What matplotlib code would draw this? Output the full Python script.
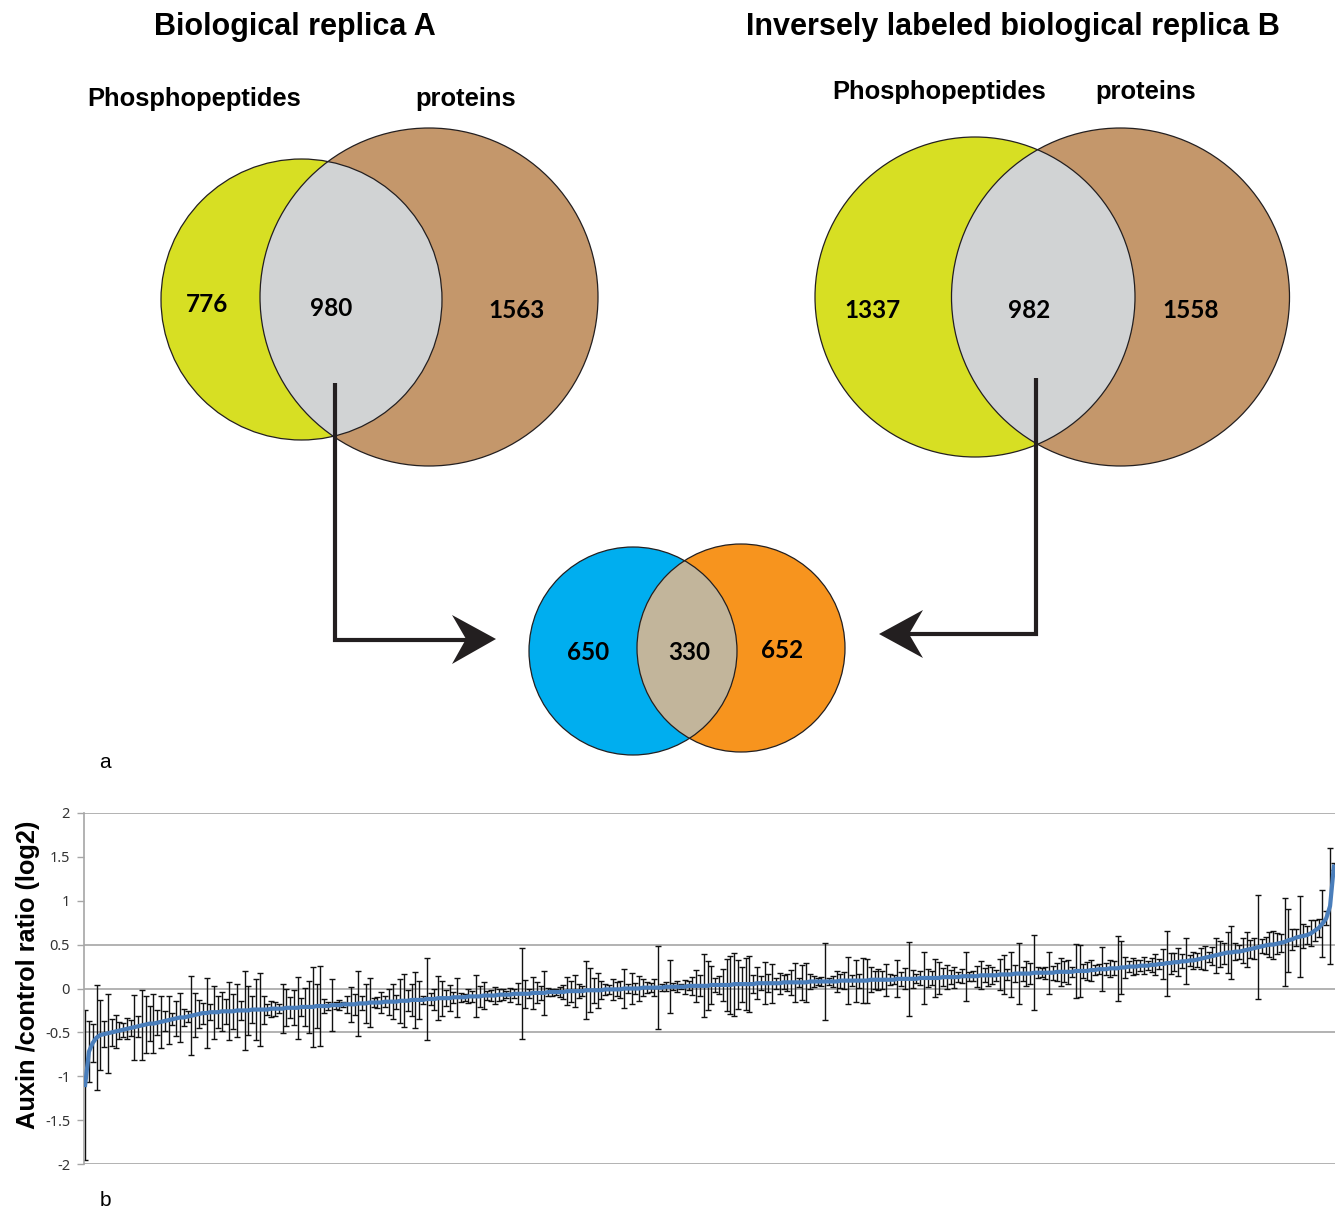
import matplotlib
matplotlib.use('Agg')
import matplotlib.pyplot as plt
import matplotlib.patches as mpatches
import numpy as np

# Venn counts
replica_a = [776, 980, 1563]
replica_b = [1337, 982, 1558]
overlap_ab = [650, 330, 652]
set_labels = ['Phosphopeptides', 'proteins']

# sorted log2 ratios (line) and error bar half-widths
ratio = [
    -1.10, -0.72, -0.62, -0.56, -0.53, -0.52, -0.51, -0.50, -0.49, -0.48,
    -0.47, -0.46, -0.45, -0.44, -0.43, -0.42, -0.41, -0.40, -0.40, -0.39,
    -0.38, -0.37, -0.36, -0.35, -0.34, -0.33, -0.33, -0.32, -0.31, -0.30,
    -0.29, -0.28, -0.28, -0.27, -0.27, -0.27, -0.26, -0.26, -0.26, -0.26,
    -0.25, -0.25, -0.25, -0.25, -0.24, -0.24, -0.24, -0.24, -0.24, -0.23,
    -0.23, -0.23, -0.23, -0.22, -0.22, -0.22, -0.22, -0.21, -0.21, -0.21,
    -0.21, -0.20, -0.20, -0.20, -0.20, -0.19, -0.19, -0.19, -0.18, -0.18,
    -0.18, -0.18, -0.17, -0.17, -0.17, -0.16, -0.16, -0.16, -0.16, -0.15,
    -0.15, -0.15, -0.15, -0.14, -0.14, -0.14, -0.13, -0.13, -0.13, -0.13,
    -0.12, -0.12, -0.12, -0.11, -0.11, -0.11, -0.11, -0.10, -0.10, -0.10,
    -0.10, -0.09, -0.09, -0.09, -0.09, -0.08, -0.08, -0.08, -0.08, -0.07,
    -0.07, -0.07, -0.07, -0.06, -0.06, -0.06, -0.06, -0.06, -0.05, -0.05,
    -0.05, -0.05, -0.04, -0.04, -0.04, -0.04, -0.04, -0.03, -0.03, -0.03,
    -0.03, -0.03, -0.02, -0.02, -0.02, -0.02, -0.02, -0.01, -0.01, -0.01,
    -0.01, -0.01, 0.00, 0.00, 0.00, 0.00, 0.00, 0.01, 0.01, 0.01,
    0.01, 0.01, 0.01, 0.02, 0.02, 0.02, 0.02, 0.02, 0.02, 0.03,
    0.03, 0.03, 0.03, 0.03, 0.03, 0.04, 0.04, 0.04, 0.04, 0.04,
    0.04, 0.05, 0.05, 0.05, 0.05, 0.05, 0.05, 0.06, 0.06, 0.06,
    0.06, 0.06, 0.06, 0.06, 0.07, 0.07, 0.07, 0.07, 0.07, 0.07,
    0.07, 0.08, 0.08, 0.08, 0.08, 0.08, 0.08, 0.08, 0.08, 0.09,
    0.09, 0.09, 0.09, 0.09, 0.09, 0.09, 0.09, 0.10, 0.10, 0.10,
    0.10, 0.10, 0.10, 0.10, 0.11, 0.11, 0.11, 0.11, 0.11, 0.11,
    0.12, 0.12, 0.12, 0.12, 0.12, 0.12, 0.13, 0.13, 0.13, 0.13,
    0.13, 0.14, 0.14, 0.14, 0.14, 0.14, 0.15, 0.15, 0.15, 0.15,
    0.15, 0.16, 0.16, 0.16, 0.16, 0.17, 0.17, 0.17, 0.17, 0.17,
    0.18, 0.18, 0.18, 0.18, 0.18, 0.18, 0.19, 0.19, 0.19, 0.19,
    0.19, 0.20, 0.20, 0.20, 0.20, 0.21, 0.21, 0.22, 0.22, 0.22,
    0.23, 0.23, 0.23, 0.24, 0.24, 0.25, 0.25, 0.25, 0.26, 0.26,
    0.26, 0.27, 0.27, 0.28, 0.28, 0.29, 0.29, 0.30, 0.30, 0.31,
    0.31, 0.32, 0.32, 0.33, 0.34, 0.35, 0.36, 0.37, 0.38, 0.39,
    0.40, 0.41, 0.41, 0.42, 0.42, 0.43, 0.44, 0.45, 0.46, 0.47,
    0.48, 0.49, 0.50, 0.50, 0.51, 0.52, 0.53, 0.55, 0.56, 0.58,
    0.59, 0.60, 0.61, 0.63, 0.66, 0.69, 0.74, 0.80, 0.94, 1.39,
]
err = [
    0.85, 0.35, 0.22, 0.60, 0.40, 0.15, 0.45, 0.15, 0.19, 0.10,
    0.08, 0.12, 0.09, 0.37, 0.12, 0.40, 0.33, 0.20, 0.34, 0.14,
    0.30, 0.11, 0.27, 0.07, 0.20, 0.28, 0.10, 0.06, 0.45, 0.25,
    0.16, 0.12, 0.40, 0.09, 0.30, 0.18, 0.22, 0.14, 0.33, 0.20,
    0.30, 0.11, 0.45, 0.28, 0.15, 0.35, 0.42, 0.16, 0.06, 0.09,
    0.08, 0.05, 0.28, 0.21,
    0.12, 0.20, 0.35, 0.10, 0.22, 0.30, 0.46, 0.25, 0.46, 0.08,
    0.05, 0.30, 0.04, 0.06, 0.03, 0.10, 0.20, 0.12, 0.37, 0.08,
    0.22, 0.28, 0.05, 0.06, 0.12, 0.06, 0.15, 0.20, 0.08, 0.25,
    0.30, 0.12, 0.18, 0.32, 0.22, 0.05, 0.47, 0.07, 0.12, 0.25,
    0.20, 0.09, 0.15, 0.06, 0.22, 0.05, 0.04, 0.08, 0.06, 0.24,
    0.12, 0.15, 0.05, 0.06, 0.10, 0.07,
    0.06, 0.04, 0.08, 0.05, 0.12, 0.52, 0.16, 0.05, 0.18, 0.12,
    0.08, 0.25, 0.05, 0.04, 0.03, 0.06, 0.08, 0.16, 0.12, 0.18,
    0.08, 0.06, 0.33, 0.25, 0.14, 0.20, 0.10, 0.06, 0.05, 0.12,
    0.08, 0.10, 0.22, 0.05, 0.18, 0.06, 0.14, 0.10, 0.06, 0.05,
    0.10, 0.47, 0.04, 0.05, 0.30, 0.04, 0.06, 0.03, 0.08, 0.05,
    0.10, 0.18, 0.12, 0.36, 0.28, 0.22,
    0.08, 0.10, 0.18, 0.30, 0.33, 0.36, 0.28, 0.20, 0.30, 0.32,
    0.10, 0.18, 0.08, 0.24, 0.10, 0.22, 0.06, 0.12, 0.08, 0.10,
    0.14, 0.22, 0.05, 0.20, 0.22, 0.08, 0.06, 0.04, 0.05, 0.44,
    0.04, 0.06, 0.12, 0.08, 0.10, 0.27, 0.06, 0.24, 0.08, 0.26,
    0.25, 0.14, 0.10, 0.12, 0.10, 0.18, 0.06, 0.05, 0.21, 0.08,
    0.12, 0.42, 0.10, 0.05, 0.08,
    0.30, 0.10, 0.08, 0.22, 0.18, 0.10, 0.14, 0.08, 0.12, 0.06,
    0.08, 0.28, 0.05, 0.06, 0.12, 0.16, 0.08, 0.12, 0.10, 0.06,
    0.18, 0.22, 0.06, 0.26, 0.10, 0.35, 0.08, 0.14, 0.12, 0.43,
    0.06, 0.05, 0.07, 0.24, 0.08, 0.10, 0.16, 0.12, 0.14, 0.06,
    0.31, 0.30, 0.08, 0.10, 0.12, 0.06, 0.06, 0.25, 0.07, 0.10,
    0.08, 0.37, 0.30, 0.12, 0.06, 0.10,
    0.08, 0.06, 0.10, 0.05, 0.08, 0.12, 0.06, 0.17, 0.37, 0.12,
    0.10, 0.16, 0.08, 0.26, 0.06, 0.10, 0.08, 0.12, 0.14, 0.06,
    0.10, 0.20, 0.15, 0.12, 0.23, 0.30, 0.10, 0.08, 0.14, 0.20,
    0.10, 0.12, 0.59, 0.08, 0.10, 0.14, 0.16, 0.12, 0.10, 0.50,
    0.36, 0.12, 0.10, 0.46, 0.14, 0.10, 0.15, 0.12, 0.10, 0.38,
    0.08, 0.66, 0.04,
]
yticks = [-2, -1.5, -1, -0.5, 0, 0.5, 1, 1.5, 2]
ytick_labels = ['-2', '-1.5', '-1', '-0.5', '0', '0.5', '1', '1.5', '2']
grid_at = [-2, -0.5, 0, 0.5, 2]

W, H = 1335, 1212
fig = plt.figure(figsize=(W / 100, H / 100), dpi=100)

# ---- panel a: drawn in pixel coordinates ----
top = fig.add_axes([0, 0, 1, 1])
top.set_xlim(0, W)
top.set_ylim(H, 0)
top.axis('off')

EDGE = '#231F20'
num_font = dict(family=['Lato', 'DejaVu Sans'], fontweight='bold', fontsize=17.5,
                ha='center', va='center', color='black')
title_font = dict(family=['Liberation Sans'], fontweight='bold', ha='center', va='center')


def venn(ax, c1, r1, c2, r2, col1, col2, col12, counts, pos):
    left = mpatches.Circle(c1, r1, facecolor=col1, edgecolor='none', zorder=1)
    right = mpatches.Circle(c2, r2, facecolor=col2, edgecolor='none', zorder=1)
    ax.add_patch(left)
    ax.add_patch(right)
    lens = mpatches.Circle(c1, r1, facecolor=col12, edgecolor='none', zorder=2)
    ax.add_patch(lens)
    lens.set_clip_path(right)
    for c, r in [(c1, r1), (c2, r2)]:
        ax.add_patch(mpatches.Circle(c, r, facecolor='none', edgecolor=EDGE, lw=0.9, zorder=3))
    for n, p in zip(counts, pos):
        ax.text(p[0], p[1], str(n), zorder=4, **num_font)


venn(top, (301.5, 299.5), 140.5, (429, 297), 169, '#D7DF23', '#C4976B', '#D1D3D4',
     replica_a, [(207, 305), (331, 308), (517, 311)])
venn(top, (975, 297), 160, (1120.5, 297), 169, '#D7DF23', '#C4976B', '#D1D3D4',
     replica_b, [(873, 311), (1029, 311), (1191, 311)])
venn(top, (633, 651), 104, (741, 648), 104, '#00AEEF', '#F7941E', '#C2B59B',
     overlap_ab, [(588, 653), (689, 653), (782, 651)])

top.text(295, 27, 'Biological replica A', fontsize=22, **title_font)
top.text(1013, 27, 'Inversely labeled biological replica B', fontsize=22, **title_font)
top.text(194, 99, set_labels[0], fontsize=18.4, **title_font)
top.text(466, 99, set_labels[1], fontsize=18.4, **title_font)
top.text(939, 92, set_labels[0], fontsize=18.4, **title_font)
top.text(1146, 92, set_labels[1], fontsize=18.4, **title_font)

# connector arrows
top.plot([335, 335, 468], [383, 640, 640], color=EDGE, lw=3, solid_capstyle='butt',
         solid_joinstyle='miter', zorder=5)
top.add_patch(mpatches.Polygon([(496, 639), (452, 615), (466, 639), (452, 664)],
                               closed=True, facecolor=EDGE, edgecolor='none', zorder=5))
top.plot([1036, 1036, 908], [378, 634, 634], color=EDGE, lw=3, solid_capstyle='butt',
         solid_joinstyle='miter', zorder=5)
top.add_patch(mpatches.Polygon([(879, 634), (923, 610), (909, 634), (923, 658)],
                               closed=True, facecolor=EDGE, edgecolor='none', zorder=5))

top.text(105, 762, 'a', fontsize=15, family=['Liberation Sans'], ha='center', va='center')
top.text(105, 1200, 'b', fontsize=15, family=['Liberation Sans'], ha='center', va='center')
top.text(28, 975, 'Auxin /control ratio (log2)', family=['Liberation Sans'], fontweight='bold',
         fontsize=18.3, rotation=90, ha='center', va='center')

# ---- panel b ----
ax = fig.add_axes([84 / W, 1 - 1164 / H, 1 - 84 / W, (1164 - 813) / H])
ax.patch.set_alpha(0)
x = np.arange(len(ratio))
for g in grid_at:
    ax.axhline(g, color='#A6A6A6', lw=1.2, zorder=0)
ax.errorbar(x, ratio, yerr=err, fmt='none', ecolor='#111111', elinewidth=1.0,
            capsize=2.3, capthick=1.0, zorder=2)
ax.plot(x, ratio, color='#4A7EBB', lw=3.0, zorder=3)

ax.set_xlim(-0.3, len(ratio) - 0.7)
ax.set_ylim(-2, 2)
ax.set_yticks(yticks)
ax.set_yticklabels(ytick_labels, family=['Noto Sans'], fontsize=10.5, color='#333333')
ax.set_xticks([])
for s in ['top', 'right', 'bottom']:
    ax.spines[s].set_visible(False)
ax.spines['left'].set_color('#A6A6A6')
ax.spines['left'].set_linewidth(1.2)
ax.tick_params(axis='y', length=5, color='#A6A6A6', width=1.0, pad=5)

fig.savefig('out.png', dpi=100)
